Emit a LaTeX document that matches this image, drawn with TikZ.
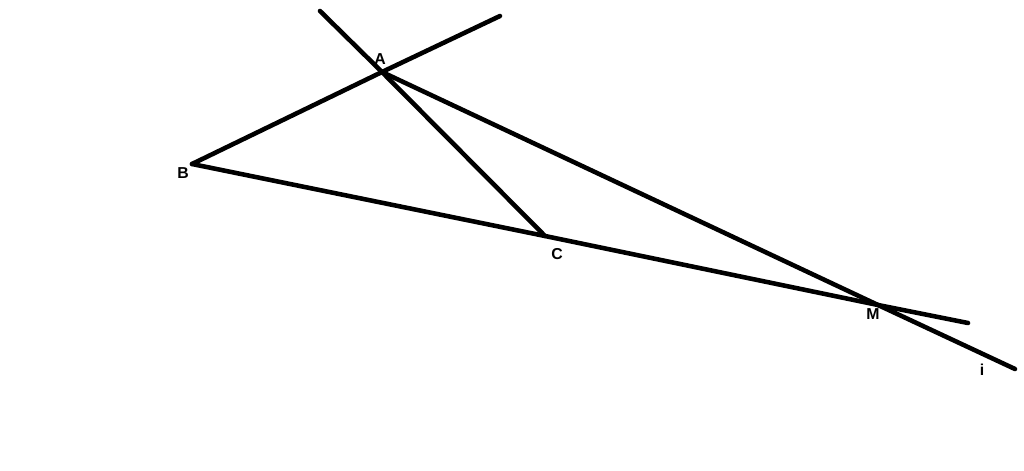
\documentclass[tikz,border=0pt]{standalone}
\usepackage{fontspec}
\setmainfont{Liberation Sans}
\usepackage{tikz}

\tikzset{
    seg/.style={line width=2.6pt, line cap=round, line join=round},
    ptlabel/.style={font=\fontsize{9}{10}\selectfont\bfseries, inner sep=0pt}
}

\begin{document}
\begin{tikzpicture}[x=0.02cm, y=-0.02cm]
    \useasboundingbox (0,0) rectangle (1024,470);
    % points
    \coordinate (A) at (382,72);
    \coordinate (B) at (192,164);
    \coordinate (C) at (545,236);
    \coordinate (M) at (878,305);
    \coordinate (Atop) at (320,11);
    \coordinate (Aend) at (500,16);
    \coordinate (Mend) at (968,323);
    \coordinate (iend) at (1015,369);
    % lines
    \draw [seg] (Atop) -- (A) -- (C);
    \draw [seg] (B) -- (A) -- (Aend);
    \draw [seg] (B) -- (C) -- (M) -- (Mend);
    \draw [seg] (A) -- (M) -- (iend);
    % labels
    \node [ptlabel] (lA) at (380,59) {A};
    \node [ptlabel] (lB) at (183,173) {B};
    \node [ptlabel] (lC) at (557,254) {C};
    \node [ptlabel] (lM) at (873,314) {M};
    \node [ptlabel] (li) at (982,370) {i};
\end{tikzpicture}
\end{document}
